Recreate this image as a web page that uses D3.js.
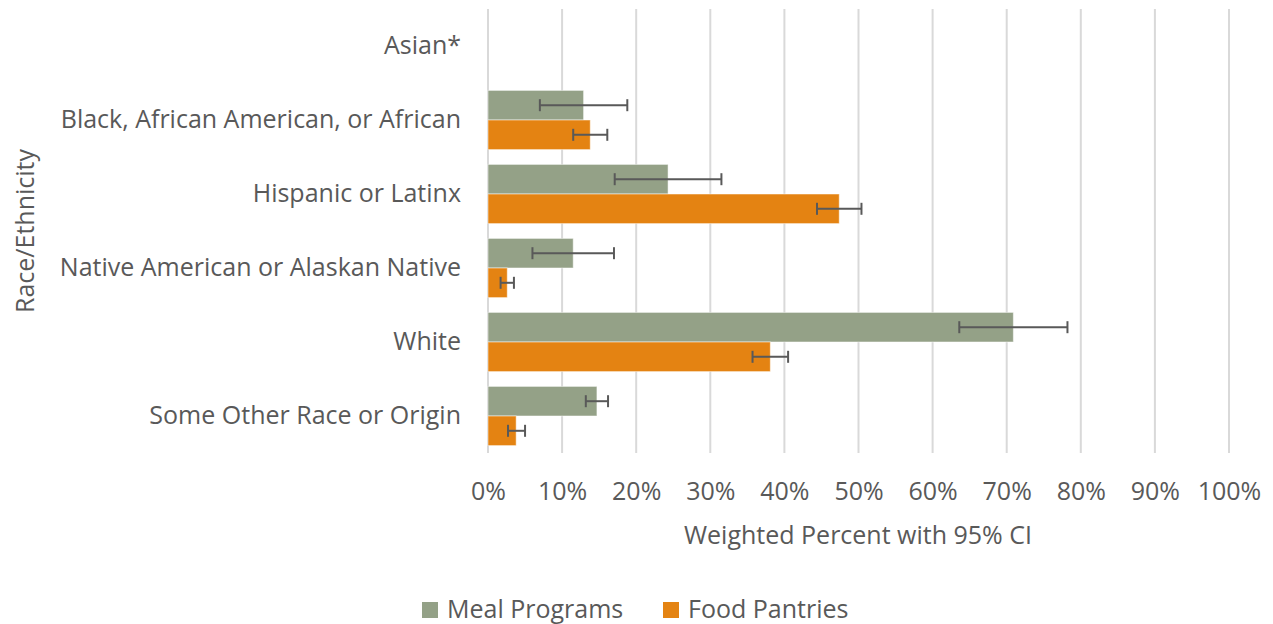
<!DOCTYPE html>
<html>
<head>
<meta charset="utf-8">
<script src="https://cdn.jsdelivr.net/npm/d3@7"></script>
<style>
  body { margin: 0; background: #fff; }
  text { font-family: "Open Sans", sans-serif; fill: #595959; }
</style>
</head>
<body>
<div id="chart"></div>
<script>
var categories = [
  "Asian*",
  "Black, African American, or African",
  "Hispanic or Latinx",
  "Native American or Alaskan Native",
  "White",
  "Some Other Race or Origin"
];
var seriesNames = ["Meal Programs", "Food Pantries"];
var seriesColors = ["#94a187", "#e48312"];

// weighted percent
var mealValues = [null, 12.9, 24.3, 11.5, 70.9, 14.7];
var pantryValues = [null, 13.8, 47.4, 2.6, 38.1, 3.8];
// 95% CI bounds
var mealLow = [null, 7.0, 17.1, 6.0, 63.6, 13.2];
var mealHigh = [null, 18.8, 31.5, 17.0, 78.2, 16.2];
var pantryLow = [null, 11.5, 44.4, 1.7, 35.7, 2.7];
var pantryHigh = [null, 16.1, 50.4, 3.5, 40.5, 5.0];

var xTicks = [0, 10, 20, 30, 40, 50, 60, 70, 80, 90, 100];

var width = 1273,
  height = 624;
var margin = { top: 9, right: 44, bottom: 171, left: 488 };
var innerW = width - margin.left - margin.right,
  innerH = height - margin.top - margin.bottom;
var fontSize = "25px";

var svg = d3
  .select("#chart")
  .append("svg")
  .attr("width", width)
  .attr("height", height);

var g = svg
  .append("g")
  .attr("transform", "translate(" + margin.left + "," + margin.top + ")");

var x = d3.scaleLinear().domain([0, 100]).range([0, innerW]);
var y = d3
  .scaleBand()
  .domain(categories)
  .range([0, innerH])
  .paddingInner(0.2)
  .paddingOuter(0.1);
var sub = d3
  .scaleBand()
  .domain(seriesNames)
  .range([0, y.bandwidth()]);

// gridlines
g.selectAll(".grid")
  .data(xTicks)
  .enter()
  .append("line")
  .attr("class", "grid")
  .attr("x1", function (d) { return x(d); })
  .attr("x2", function (d) { return x(d); })
  .attr("y1", 0)
  .attr("y2", innerH)
  .attr("stroke", "#d9d9d9")
  .attr("stroke-width", 2);

var rows = categories.map(function (c, i) {
  return [
    { cat: c, s: 0, v: mealValues[i], lo: mealLow[i], hi: mealHigh[i] },
    { cat: c, s: 1, v: pantryValues[i], lo: pantryLow[i], hi: pantryHigh[i] }
  ];
});
var flat = [].concat.apply([], rows).filter(function (d) { return d.v != null; });

g.selectAll(".bar")
  .data(flat)
  .enter()
  .append("rect")
  .attr("class", "bar")
  .attr("x", x(0))
  .attr("y", function (d) { return y(d.cat) + sub(seriesNames[d.s]); })
  .attr("width", function (d) { return x(d.v) - x(0); })
  .attr("height", sub.bandwidth())
  .attr("fill", function (d) { return seriesColors[d.s]; })
  .attr("stroke", "#fff")
  .attr("stroke-opacity", 0.5)
  .attr("stroke-width", 1);

// error bars
var err = g
  .selectAll(".err")
  .data(flat)
  .enter()
  .append("g")
  .attr("class", "err")
  .attr("transform", function (d) {
    return "translate(0," + (y(d.cat) + sub(seriesNames[d.s]) + sub.bandwidth() / 2) + ")";
  })
  .attr("stroke", "#595959")
  .attr("stroke-width", 2);

err.append("line")
  .attr("x1", function (d) { return x(d.lo); })
  .attr("x2", function (d) { return x(d.hi); });
err.append("line")
  .attr("x1", function (d) { return x(d.lo); })
  .attr("x2", function (d) { return x(d.lo); })
  .attr("y1", -6)
  .attr("y2", 6);
err.append("line")
  .attr("x1", function (d) { return x(d.hi); })
  .attr("x2", function (d) { return x(d.hi); })
  .attr("y1", -6)
  .attr("y2", 6);

// x axis labels
var xAxis = g
  .append("g")
  .attr("transform", "translate(0," + innerH + ")")
  .call(
    d3.axisBottom(x)
      .tickValues(xTicks)
      .tickFormat(function (d) { return d + "%"; })
      .tickSize(0)
      .tickPadding(29)
  );
xAxis.select(".domain").remove();
xAxis.selectAll("text").style("font-size", fontSize).attr("fill", "#595959");

// y axis labels
var yAxis = g.append("g").call(d3.axisLeft(y).tickSize(0).tickPadding(27));
yAxis.select(".domain").remove();
yAxis.selectAll("text").style("font-size", fontSize).attr("fill", "#595959");

// axis titles
svg.append("text")
  .attr("x", 858)
  .attr("y", 544)
  .attr("text-anchor", "middle")
  .style("font-size", fontSize)
  .text("Weighted Percent with 95% CI");

svg.append("text")
  .attr("transform", "translate(34,231) rotate(-90)")
  .attr("text-anchor", "middle")
  .style("font-size", fontSize)
  .text("Race/Ethnicity");

// legend
var legendX = [422, 663];
var legend = svg
  .selectAll(".legend")
  .data(seriesNames)
  .enter()
  .append("g")
  .attr("class", "legend")
  .attr("transform", function (d, i) { return "translate(" + legendX[i] + ",602)"; });
legend.append("rect")
  .attr("width", 16)
  .attr("height", 16)
  .attr("fill", function (d, i) { return seriesColors[i]; });
legend.append("text")
  .attr("x", 25)
  .attr("y", 16)
  .style("font-size", fontSize)
  .text(function (d) { return d; });
</script>
</body>
</html>
